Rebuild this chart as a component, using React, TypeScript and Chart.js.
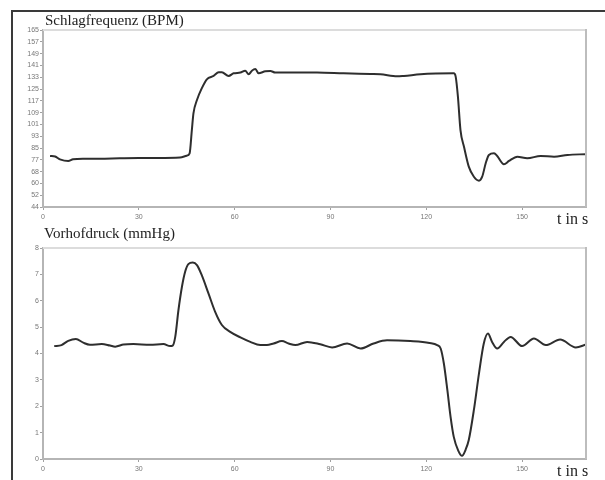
import React, { useEffect, useRef } from "react";
import { Chart, registerables } from "chart.js";
Chart.register(...registerables);

// ---- Data ----
const hrTime = [2.2, 3.8, 5.3, 7.9, 9.4, 12.5, 17.7, 24, 30, 36, 42.9, 45, 45.9, 46.6, 47.1, 48.2, 49.7, 51.3, 53.4, 55, 56, 58.1, 59.7, 61.8, 63.3, 64.4, 65.4, 66.5, 67.5, 69.6, 71.2, 72.7, 80.6, 85.8, 94.1, 102.5, 105.6, 110.9, 113, 118.2, 123, 128.6, 129.2, 129.9, 130.7, 131.8, 133.3, 134.9, 136.5, 137.5, 138.6, 139.6, 141.2, 142.2, 144.3, 145.9, 148.5, 151.6, 155.8, 160, 164.2, 169.9];
const hrBpm = [78.9, 78.5, 76.6, 75.4, 76.6, 77, 77, 77.3, 77.5, 77.5, 77.8, 79.1, 80.7, 96.6, 108, 117.1, 125.1, 131.3, 133.6, 136.1, 136.1, 133.6, 135.4, 135.9, 137.2, 134.7, 137.2, 138.3, 135.4, 136.8, 137, 135.9, 135.9, 136, 135.4, 134.9, 134.7, 133.3, 133.6, 134.7, 135.2, 135.4, 133.1, 119.4, 96.6, 85.2, 71.6, 64.7, 62, 64.7, 73.9, 79.6, 80.7, 78.9, 73.2, 75.5, 78.4, 77.3, 78.9, 78.4, 79.6, 80.1];

const pressTime = [3.5, 5.8, 7.9, 10.3, 12.6, 14.7, 18.4, 21, 22.6, 25.2, 28.3, 33.5, 37.7, 39.8, 40.6, 41.4, 42.4, 43.5, 44.5, 45.5, 46.9, 48.2, 49.7, 51.8, 53.9, 56, 58.6, 61.8, 64.9, 68, 70.1, 72.2, 74.8, 76.9, 79, 82.7, 86.8, 90.5, 95.2, 99.4, 103.5, 107.7, 115, 121, 123.4, 124.5, 125.5, 126.6, 127.6, 128.6, 130, 131.2, 132.3, 133.3, 134.9, 136.5, 138, 139.3, 140.6, 142.2, 144.3, 146.4, 150, 153.7, 157.4, 161.9, 166.8, 170];
const pressMmHg = [4.28, 4.32, 4.48, 4.55, 4.41, 4.33, 4.36, 4.3, 4.26, 4.34, 4.36, 4.33, 4.36, 4.28, 4.3, 4.63, 5.64, 6.53, 7.1, 7.39, 7.45, 7.35, 6.97, 6.28, 5.58, 5.08, 4.82, 4.61, 4.44, 4.32, 4.32, 4.38, 4.47, 4.38, 4.32, 4.44, 4.35, 4.23, 4.38, 4.19, 4.38, 4.5, 4.47, 4.4, 4.32, 4.19, 3.62, 2.61, 1.6, 0.84, 0.32, 0.12, 0.35, 0.72, 1.86, 3.25, 4.38, 4.76, 4.44, 4.19, 4.44, 4.63, 4.28, 4.57, 4.32, 4.53, 4.23, 4.34];

const xTickValues = [0, 30, 60, 90, 120, 150];
const hrTickLabels = ["44", "52", "60", "68", "77", "85", "93", "101", "109", "117", "125", "133", "141", "149", "157", "165"];
const pressTickValues = [0, 1, 2, 3, 4, 5, 6, 7, 8];

const HR_MIN = 44;
const HR_MAX = 165;
const X_MAX = 170;

const frameLines = {
  id: "frameLines",
  afterDraw(chart: any) {
    const { ctx, chartArea } = chart;
    ctx.save();
    ctx.lineWidth = 2;
    ctx.strokeStyle = "#dcdcdc";
    ctx.beginPath();
    ctx.moveTo(chartArea.left, chartArea.top);
    ctx.lineTo(chartArea.right, chartArea.top);
    ctx.stroke();
    ctx.strokeStyle = "#bdbdbd";
    ctx.beginPath();
    ctx.moveTo(chartArea.right, chartArea.top - 1);
    ctx.lineTo(chartArea.right, chartArea.bottom);
    ctx.stroke();
    ctx.restore();
  },
};

const tickFont = { family: "'Liberation Sans', Arial, sans-serif", size: 7 };

function makeOptions(yCfg: any, padTop: number): any {
  return {
    responsive: false,
    animation: false,
    maintainAspectRatio: false,
    layout: { padding: { top: padTop, right: 19, left: 0, bottom: 0 } },
    plugins: { legend: { display: false }, tooltip: { enabled: false }, title: { display: false } },
    elements: { point: { radius: 0 } },
    scales: {
      x: {
        type: "linear",
        min: 0,
        max: X_MAX,
        afterBuildTicks: (axis: any) => {
          axis.ticks = xTickValues.map((v) => ({ value: v }));
        },
        afterFit: (scale: any) => {
          scale.height = 21;
        },
        border: { color: "#b5b5b5", width: 2 },
        grid: { drawOnChartArea: false, drawTicks: true, tickLength: 3, color: "#a0a0a0" },
        ticks: { font: tickFont, color: "#777", padding: 3, maxRotation: 0 },
      },
      y: {
        ...yCfg,
        afterFit: (scale: any) => {
          scale.width = 43;
        },
        border: { color: "#b5b5b5", width: 2 },
        grid: { drawOnChartArea: false, drawTicks: true, tickLength: 3, color: "#a0a0a0" },
      },
    },
  };
}

function LineCanvas(props: { xs: number[]; ys: number[]; yCfg: any; padTop: number; width: number; height: number; top: number }) {
  const ref = useRef<HTMLCanvasElement>(null);
  useEffect(() => {
    if (!ref.current) return;
    const chart = new Chart(ref.current, {
      type: "line",
      data: {
        datasets: [
          {
            data: props.xs.map((x, i) => ({ x, y: props.ys[i] })),
            borderColor: "#2e2e2e",
            borderWidth: 2,
            pointRadius: 0,
            cubicInterpolationMode: "monotone",
            fill: false,
          },
        ],
      },
      options: makeOptions(props.yCfg, props.padTop),
      plugins: [frameLines],
    });
    return () => chart.destroy();
  }, []);
  return (
    <canvas
      ref={ref}
      width={props.width}
      height={props.height}
      style={{ position: "absolute", left: 0, top: props.top, width: props.width, height: props.height }}
    />
  );
}

const hrStep = (HR_MAX - HR_MIN) / (hrTickLabels.length - 1);

const hrY = {
  type: "linear",
  min: HR_MIN,
  max: HR_MAX,
  afterBuildTicks: (axis: any) => {
    axis.ticks = hrTickLabels.map((_, i) => ({ value: HR_MIN + i * hrStep }));
  },
  ticks: {
    font: tickFont,
    color: "#777",
    padding: 1,
    callback: (_v: any, i: number) => hrTickLabels[i],
  },
};

const pressY = {
  type: "linear",
  min: 0,
  max: 8,
  afterBuildTicks: (axis: any) => {
    axis.ticks = pressTickValues.map((v) => ({ value: v }));
  },
  ticks: { font: tickFont, color: "#777", padding: 1 },
};

const serif = "'Liberation Serif', 'Times New Roman', serif";

export default function App() {
  const textStyle = (left: number, top: number, size: number): React.CSSProperties => ({
    position: "absolute",
    left,
    top,
    fontFamily: serif,
    fontSize: size,
    lineHeight: `${size}px`,
    color: "#222",
    whiteSpace: "nowrap",
  });
  return (
    <div style={{ position: "fixed", left: 0, top: 0, width: 605, height: 480, background: "#fff", overflow: "hidden" }}>
      <LineCanvas xs={hrTime} ys={hrBpm} yCfg={hrY} padTop={30} width={605} height={228} top={0} />
      <LineCanvas xs={pressTime} ys={pressMmHg} yCfg={pressY} padTop={20} width={605} height={252} top={228} />
      <div style={{ position: "absolute", left: 11, top: 10, width: 594, height: 2, background: "#3a3a3a" }} />
      <div style={{ position: "absolute", left: 11, top: 10, width: 2, height: 470, background: "#3a3a3a" }} />
      <div style={textStyle(45, 13, 15)}>Schlagfrequenz (BPM)</div>
      <div style={textStyle(44, 226, 15)}>Vorhofdruck (mmHg)</div>
      <div style={textStyle(557, 211, 16)}>t in s</div>
      <div style={textStyle(557, 463, 16)}>t in s</div>
    </div>
  );
}
